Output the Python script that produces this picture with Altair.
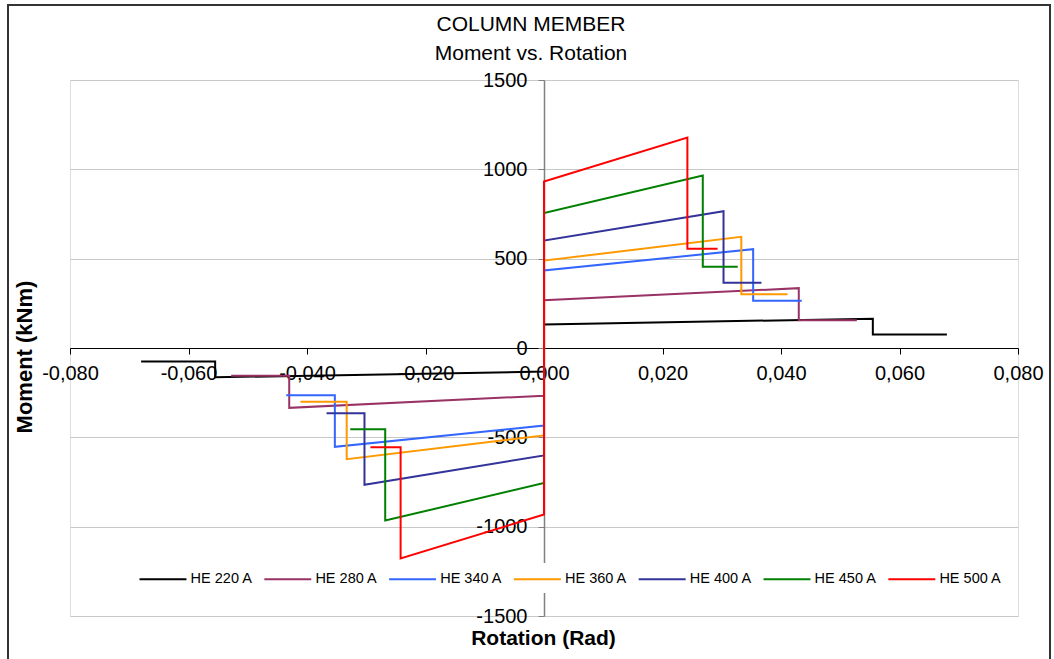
import altair as alt
import pandas as pd

# ---- data ----
names = ["HE 220 A", "HE 280 A", "HE 340 A", "HE 360 A", "HE 400 A", "HE 450 A", "HE 500 A"]
colors = ["#000000", "#993366", "#3366FF", "#FF9900", "#333399", "#008000", "#FF0000"]
m_yield = [132, 267, 434, 489, 601, 755, 932]        # moment at zero rotation (kNm)
m_ult = [164, 335, 553, 622, 766, 966, 1178]         # peak moment (kNm)
m_res = [76, 155, 264, 301, 365, 455, 555]           # residual moment (kNm)
rot_ult = [0.0555, 0.0430, 0.0353, 0.0333, 0.0303, 0.0268, 0.0242]  # rotation at peak (rad)
rot_end = [0.0680, 0.0528, 0.0435, 0.0411, 0.0367, 0.0327, 0.0293]  # final rotation (rad)

x_ticks = [-0.08, -0.06, -0.04, -0.02, 0.0, 0.02, 0.04, 0.06, 0.08]
y_ticks = [-1500, -1000, -500, 0, 500, 1000, 1500]

rows = []
for n, my, mu, mr, tu, te in zip(names, m_yield, m_ult, m_res, rot_ult, rot_end):
    xs = [-te, -tu, -tu, 0.0, 0.0, tu, tu, te]
    ys = [-mr, -mr, -mu, -my, my, mu, mr, mr]
    for i, (a, b) in enumerate(zip(xs, ys)):
        rows.append({"series": n, "i": i, "rot": a, "mom": b})
df = pd.DataFrame(rows)

FONT = "Liberation Sans"
W, H = 948, 536

lines = alt.Chart(df).mark_line(strokeWidth=2).encode(
    x=alt.X("rot:Q",
            scale=alt.Scale(domain=[-0.08, 0.08], nice=False, zero=False),
            axis=alt.Axis(values=x_ticks, offset=-H / 2, tickSize=6, labelPadding=9,
                          labelFontSize=20, labelFont=FONT, labelColor="#000000",
                          domainColor="#000000", tickColor="#000000", domainWidth=1.2,
                          labelFlush=False, labelOverlap=False, grid=False, title=None,
                          labelExpr="(datum.value < 0 ? '-' : '') + replace(format(abs(datum.value), '.3f'), '.', ',')")),
    y=alt.Y("mom:Q",
            scale=alt.Scale(domain=[-1500, 1500], nice=False),
            axis=alt.Axis(values=y_ticks, offset=-W / 2, tickSize=6, labelPadding=11,
                          labelFontSize=20, labelFont=FONT, labelColor="#000000",
                          domainColor="#808080", tickColor="#808080", domainWidth=1.5,
                          grid=True, gridColor="#c8c8c8", gridWidth=1,
                          labelFlush=False, labelOverlap=False, title=None,
                          labelExpr="(datum.value < 0 ? '-' : '') + format(abs(datum.value), 'd')")),
    color=alt.Color("series:N",
                    scale=alt.Scale(domain=names, range=colors),
                    legend=alt.Legend(orient="none", legendX=77, legendY=483, direction="horizontal",
                                      title=None, fillColor="#ffffff", padding=7,
                                      symbolType="M-3,0H3", symbolSize=245, symbolStrokeWidth=2,
                                      labelOffset=18.6, columnPadding=6.8,
                                      labelFontSize=14.5, labelFont=FONT, labelColor="#000000",
                                      symbolLimit=0)),
    order=alt.Order("i:Q"),
)

txt = pd.DataFrame({"t": ["COLUMN MEMBER", "Moment vs. Rotation", "Rotation (Rad)", "Moment (kNm)"]})

def label(text, x, y, size, bold=False, angle=0):
    return alt.Chart(txt).transform_filter(alt.datum.t == text).mark_text(
        font=FONT, fontSize=size, fontWeight="bold" if bold else "normal",
        align="center", baseline="alphabetic", angle=angle, color="#000000"
    ).encode(text="t:N", x=alt.value(x), y=alt.value(y))

title1 = label("COLUMN MEMBER", 461, -49, 21)
title2 = label("Moment vs. Rotation", 461, -20, 21)
xtitle = label("Rotation (Rad)", 473.5, 565, 21, bold=True)
ytitle = label("Moment (kNm)", -38, 277, 22, bold=True, angle=270)

frame = alt.Chart(txt.head(1)).mark_rect(fill=None, stroke="#333333", strokeWidth=2).encode(
    x=alt.value(-62), x2=alt.value(980), y=alt.value(-75), y2=alt.value(600))

chart = alt.layer(frame, lines, title1, title2, xtitle, ytitle).properties(
    width=W, height=H,
    padding={"left": 70, "top": 80, "right": 36, "bottom": 43},
    autosize="none",
).configure_view(stroke="#8c8c8c", strokeWidth=2).configure(background="#ffffff")

chart.save("out.html", embed_options={"renderer": "svg", "actions": False})
